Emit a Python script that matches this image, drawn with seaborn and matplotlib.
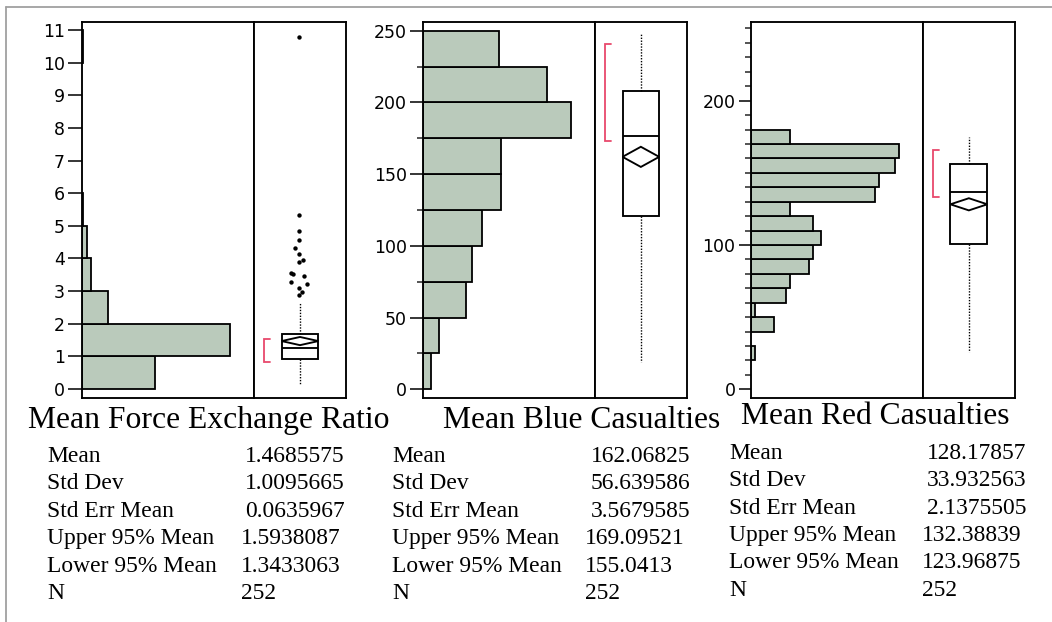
import matplotlib
matplotlib.use("Agg")
import matplotlib.pyplot as plt
from matplotlib.lines import Line2D
import seaborn as sns

# ---------------- data ----------------
titles = ["Mean Force Exchange Ratio", "Mean Blue Casualties", "Mean Red Casualties"]

# histogram bins (edges) and counts
fer_bin_edges = list(range(0, 12, 1))
fer_counts = [70, 141, 25, 9, 5, 1, 0, 0, 0, 0, 1]
blue_bin_edges = list(range(0, 275, 25))
blue_counts = [3, 6, 16, 18, 22, 29, 29, 55, 46, 28]
red_bin_edges = list(range(0, 190, 10))
red_counts = [0, 0, 1, 0, 6, 1, 9, 10, 15, 16, 18, 16, 10, 32, 33, 37, 38, 10]

# outlier box: lower whisker, 25%, median, 75%, upper whisker
fer_box = [0.12, 0.93, 1.27, 1.70, 2.67]
blue_box = [19.3, 120.8, 176.4, 208.2, 247.5]
red_box = [25.6, 100.7, 136.7, 156.1, 175.0]
fer_outliers = [2.88, 2.97, 3.10, 3.22, 3.28, 3.45, 3.52, 3.55, 3.88, 3.95,
                4.15, 4.33, 4.58, 4.84, 5.33, 10.8]

# shortest half (densest 50%) bracket
fer_short_half = [0.83, 1.52]
blue_short_half = [173.0, 241.0]
red_short_half = [133.5, 165.8]

# moments tables
moment_names = ["Mean", "Std Dev", "Std Err Mean", "Upper 95% Mean", "Lower 95% Mean", "N"]
fer_moments = ["1.4685575", "1.0095665", "0.0635967", "1.5938087", "1.3433063", "252"]
blue_moments = ["162.06825", "56.639586", "3.5679585", "169.09521", "155.0413", "252"]
red_moments = ["128.17857", "33.932563", "2.1375505", "132.38839", "123.96875", "252"]

# axis ticks
fer_major = list(range(0, 12))
blue_major = list(range(0, 300, 50))
blue_minor = list(range(25, 275, 50))
red_major = [0, 100, 200]
red_minor = [t for t in range(0, 260, 10) if t % 100 != 0]

# ---------------- style ----------------
sns.set_style("white")
plt.rcParams["font.family"] = ["DejaVu Sans"]
SERIF = ["Liberation Serif", "DejaVu Serif"]
BAR = "#bacabb"
RED = "#e8496c"
W, H = 1052, 622

fig = plt.figure(figsize=(W / 100, H / 100), dpi=100)
fig.patch.set_facecolor("white")


def px_axes(x0, x1, y0, y1):
    return fig.add_axes([x0 / W, 1 - y1 / H, (x1 - x0) / W, (y1 - y0) / H])


panels = [
    dict(x=(82, 254, 346), ylim=(-0.276, 11.245), edges=fer_bin_edges, counts=fer_counts,
         box=fer_box, outliers=fer_outliers, half=fer_short_half, moments=fer_moments,
         major=fer_major, minor=[], major_len=10.0,
         jitter=[-1, 2, -1, 7, -9, 4, -7, -9, -1, 3, -1, -5, -1, -1, -1, -1]),
    dict(x=(423.3, 595, 686.7), ylim=(-6.07, 256.1), edges=blue_bin_edges, counts=blue_counts,
         box=blue_box, outliers=[], half=blue_short_half, moments=blue_moments,
         major=blue_major, minor=blue_minor, major_len=9.2, jitter=[]),
    dict(x=(751, 922.7, 1015), ylim=(-6.03, 254.5), edges=red_bin_edges, counts=red_counts,
         box=red_box, outliers=[], half=red_short_half, moments=red_moments,
         major=red_major, minor=red_minor, major_len=8.7, jitter=[]),
]

TOP, BOTTOM = 22, 398
LW = 1.35

for p in panels:
    xa, xdiv, xb = p["x"]
    ax_h = px_axes(xa, xdiv, TOP, BOTTOM)
    ax_b = px_axes(xdiv, xb, TOP, BOTTOM)

    # histogram, bars laid out horizontally
    edges = p["edges"]
    centers = [(a + b) / 2 for a, b in zip(edges[:-1], edges[1:])]
    sns.histplot(y=centers, weights=p["counts"], bins=edges, ax=ax_h,
                 color=BAR, edgecolor="black", linewidth=1.3, alpha=1.0)
    for patch in list(ax_h.patches):
        if patch.get_width() == 0:
            patch.remove()
    ax_h.set_xlim(0, max(p["counts"]) * 172.0 / 148.0)
    ax_h.set_ylim(*p["ylim"])
    ax_h.set_xlabel("")
    ax_h.set_ylabel("")
    ax_h.set_xticks([])
    ax_h.set_yticks(p["major"])
    ax_h.set_yticks(p["minor"], minor=True)
    ax_h.tick_params(axis="y", which="major", left=True, length=p["major_len"], width=1.1,
                     direction="out", pad=2.5, labelsize=12.5, colors="black")
    ax_h.tick_params(axis="y", which="minor", left=True, length=4.3, width=1.1,
                     direction="out")

    # quantile box plot
    lo, q1, med, q3, hi = p["box"]
    stats = [dict(whislo=lo, q1=q1, med=med, q3=q3, whishi=hi, fliers=[], label="")]
    ax_b.bxp(stats, positions=[0.5], widths=0.4, patch_artist=True, showcaps=False,
             showfliers=False,
             boxprops=dict(facecolor="white", edgecolor="black", linewidth=LW),
             medianprops=dict(color="black", linewidth=LW),
             whiskerprops=dict(color="black", linewidth=1.0, linestyle=(0, (1, 1.1))))
    if p["outliers"]:
        xs = [0.5 + j / 92.0 for j in p["jitter"]]
        ax_b.scatter(xs, p["outliers"], s=10, color="black", linewidths=0, zorder=4)

    # means diamond from the reported mean and 95% limits
    mean = float(p["moments"][0])
    upper = float(p["moments"][3])
    lower = float(p["moments"][4])
    ax_b.fill([0.3, 0.5, 0.7, 0.5], [mean, upper, mean, lower], facecolor="white",
              edgecolor="black", linewidth=LW, zorder=3)

    # shortest half bracket
    s_lo, s_hi = p["half"]
    ax_b.plot([0.175, 0.11, 0.11, 0.175], [s_hi, s_hi, s_lo, s_lo], color=RED,
              linewidth=1.3, solid_joinstyle="miter")

    ax_b.set_xlim(0, 1)
    ax_b.set_ylim(*p["ylim"])
    ax_b.set_xticks([])
    ax_b.set_yticks([])

    for a in (ax_h, ax_b):
        a.set_facecolor("white")
        for s in a.spines.values():
            s.set_visible(True)
            s.set_color("black")
            s.set_linewidth(LW)

# ---------------- titles and moments ----------------
title_pos = [(28.3, 428.0), (443.3, 428.0), (740.7, 424.5)]
label_x = [47.3, 392.3, 729.3]
value_right = [345.0, 690.5, 1026.0]
value_left = [241.0, 585.0, 922.3]
row0 = [462.0, 462.0, 458.8]
ROW = 27.4
TITLE_SIZE = 22.8
STAT_SIZE = 16.9

for i, (title, p) in enumerate(zip(titles, panels)):
    tx, ty = title_pos[i]
    fig.text(tx / W, 1 - ty / H, title, family=SERIF, fontsize=TITLE_SIZE,
             ha="left", va="baseline", color="black")
    for r, (name, val) in enumerate(zip(moment_names, p["moments"])):
        y = 1 - (row0[i] + r * ROW) / H
        fig.text(label_x[i] / W, y, name, family=SERIF, fontsize=STAT_SIZE,
                 ha="left", va="baseline", color="black")
        if r < 3:
            fig.text(value_right[i] / W, y, val, family=SERIF, fontsize=STAT_SIZE,
                     ha="right", va="baseline", color="black")
        else:
            fig.text(value_left[i] / W, y, val, family=SERIF, fontsize=STAT_SIZE,
                     ha="left", va="baseline", color="black")

# report frame
fig.add_artist(Line2D([6 / W, 6 / W], [0, 1 - 7 / H], transform=fig.transFigure,
                      color="#a0a0a0", linewidth=1.3))
fig.add_artist(Line2D([6 / W, 1], [1 - 7 / H, 1 - 7 / H], transform=fig.transFigure,
                      color="#a0a0a0", linewidth=1.3))

fig.savefig("out.png", dpi=100, facecolor="white")
